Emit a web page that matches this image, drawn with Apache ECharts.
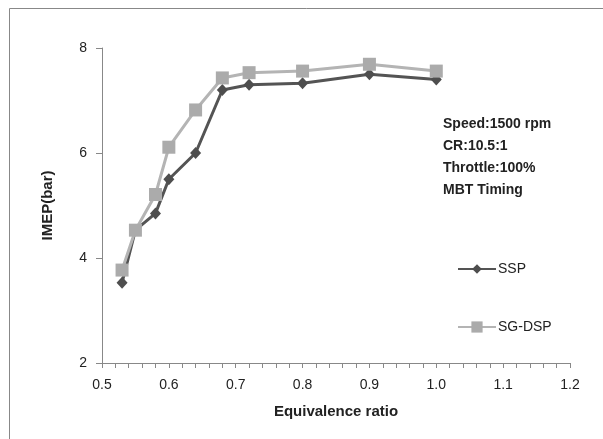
<!DOCTYPE html>
<html>
<head>
<meta charset="utf-8">
<script src="https://cdn.jsdelivr.net/npm/echarts@6/dist/echarts.min.js"></script>
<style>html,body{margin:0;padding:0;background:#fff}#c{width:603px;height:439px}</style>
</head>
<body>
<div id="c"></div>
<script>
var xTicks = [0.5, 0.6, 0.7, 0.8, 0.9, 1.0, 1.1, 1.2];
var yTicks = [2, 4, 6, 8];
var phi = [0.53, 0.55, 0.58, 0.60, 0.64, 0.68, 0.72, 0.80, 0.90, 1.00];
var ssp = [3.53, 4.53, 4.85, 5.5, 6.0, 7.2, 7.3, 7.33, 7.5, 7.4];
var sgdsp = [3.77, 4.53, 5.21, 6.11, 6.82, 7.43, 7.53, 7.56, 7.69, 7.56];
var notes = ['Speed:1500 rpm', 'CR:10.5:1', 'Throttle:100%', 'MBT Timing'];

function pairs(xs, ys) { return xs.map(function (x, i) { return [x, ys[i]]; }); }
var FONT = 'Liberation Sans';
var chart = echarts.init(document.getElementById('c'), null, { renderer: 'canvas' });
chart.setOption({
  animation: false,
  backgroundColor: '#fff',
  textStyle: { fontFamily: FONT },
  grid: { left: 102, right: 33, top: 48, bottom: 76, containLabel: false },
  xAxis: {
    type: 'value', min: xTicks[0], max: xTicks[xTicks.length - 1], interval: 0.1,
    name: 'Equivalence ratio', nameLocation: 'middle', nameGap: 41,
    nameTextStyle: { fontFamily: FONT, fontSize: 15, fontWeight: 'bold', color: '#222' },
    axisLine: { lineStyle: { color: '#888', width: 1 } },
    axisTick: { show: true, inside: false, length: 5, lineStyle: { color: '#888' } },
    minorTick: { show: true, splitNumber: 5, length: 5, lineStyle: { color: '#888' } },
    splitLine: { show: false },
    axisLabel: { margin: 15, fontSize: 14, color: '#222', fontFamily: FONT, formatter: function (v) { return v.toFixed(1); } }
  },
  yAxis: {
    type: 'value', min: yTicks[0], max: yTicks[yTicks.length - 1], interval: 2,
    name: 'IMEP(bar)', nameLocation: 'middle', nameGap: 47,
    nameTextStyle: { fontFamily: FONT, fontSize: 15, fontWeight: 'bold', color: '#222' },
    axisLine: { show: true, lineStyle: { color: '#888', width: 1 } },
    axisTick: { show: true, inside: false, length: 6, lineStyle: { color: '#888' } },
    splitLine: { show: false },
    axisLabel: { margin: 15, fontSize: 14, color: '#222', fontFamily: FONT }
  },
  legend: [
    { data: ['SSP'], left: 452, top: 257, itemWidth: 38, itemHeight: 12, itemGap: 4,
      textStyle: { fontFamily: FONT, fontSize: 14, color: '#222', padding: [0, 0, 0, -3] } },
    { data: ['SG-DSP'], left: 452, top: 315, itemWidth: 38, itemHeight: 14, itemGap: 4,
      textStyle: { fontFamily: FONT, fontSize: 14, color: '#222', padding: [0, 0, 0, -3] } }
  ],
  graphic: [
    { type: 'rect', silent: true, z: -10, shape: { x: 9.5, y: 8.5, width: 700, height: 500 },
      style: { fill: 'none', stroke: '#888', lineWidth: 1 } },
    { type: 'text', left: 443, top: 113, z: 10,
      style: { text: notes.join('\n'), fontFamily: FONT, fontSize: 14, fontWeight: 'bold', fill: '#222', lineHeight: 22 } }
  ],
  series: [
    { name: 'SSP', type: 'line', data: pairs(phi, ssp), symbol: 'diamond', symbolSize: [11, 12],
      lineStyle: { color: '#545454', width: 3 }, itemStyle: { color: '#4e4e4e' }, z: 2 },
    { name: 'SG-DSP', type: 'line', data: pairs(phi, sgdsp), symbol: 'rect', symbolSize: 13,
      lineStyle: { color: '#b4b4b4', width: 3 }, itemStyle: { color: '#ababab' }, z: 3 }
  ]
});
</script>
</body>
</html>
